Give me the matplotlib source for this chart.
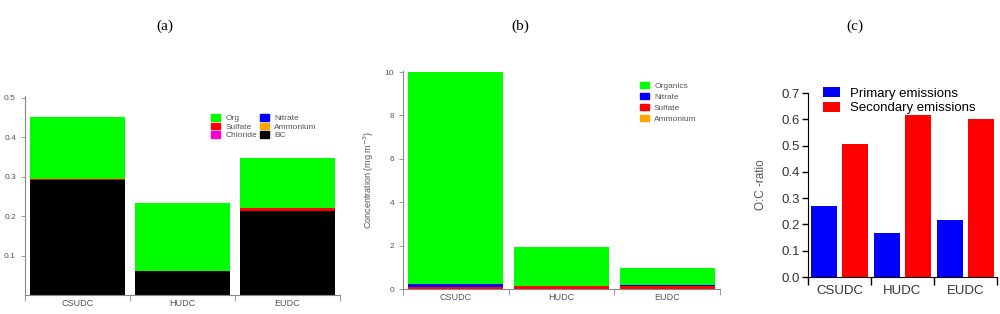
import numpy as np
import matplotlib
matplotlib.use("Agg")
import matplotlib.pyplot as plt
from matplotlib.patches import Patch

plt.rcParams["font.family"] = ["Liberation Sans", "DejaVu Sans"]

sites = ["CSUDC", "HUDC", "EUDC"]

# panel (a)
a_bc = [0.293, 0.061, 0.213]
a_chloride = [0.0, 0.0, 0.0]
a_ammonium = [0.0, 0.0, 0.0]
a_sulfate = [0.002, 0.001, 0.007]
a_nitrate = [0.0, 0.0, 0.0]
a_org = [0.157, 0.171, 0.127]

# panel (b)
b_sulfate = [0.10, 0.15, 0.14]
b_ammonium = [0.0, 0.0, 0.0]
b_nitrate = [0.15, 0.01, 0.03]
b_organics = [9.75, 1.78, 0.80]

# panel (c)
c_primary = [0.270, 0.166, 0.216]
c_secondary = [0.506, 0.618, 0.601]

GREEN = "#00ff00"
BLUE = "#0000ff"
RED = "#ff0000"
ORANGE = "#ffa500"
MAGENTA = "#ff00cc"
GRAY = "#555555"

W, H = 1000, 314
fig = plt.figure(figsize=(10, 3.14), dpi=100)


def px_axes(left, top, right, bottom):
    return fig.add_axes([left / W, 1 - bottom / H, (right - left) / W, (bottom - top) / H])


def style_small(ax):
    for s in ["top", "right"]:
        ax.spines[s].set_visible(False)
    for s in ["left", "bottom"]:
        ax.spines[s].set_color("#888888")
        ax.spines[s].set_linewidth(0.8)
    ax.tick_params(axis="y", colors="#888888", labelcolor=GRAY, labelsize=6, length=3, width=0.6)
    ax.tick_params(axis="x", which="major", length=0, labelcolor=GRAY, labelsize=6.5, pad=3)
    ax.tick_params(axis="x", which="minor", length=4, width=0.6, colors="#888888")
    ax.set_xticks(np.arange(3))
    ax.set_xticklabels(sites)
    ax.set_xticks([-0.5, 0.5, 1.5, 2.5], minor=True)
    ax.set_xlim(-0.5, 2.5)


def small_legend(ax, handles, anchor, ncol=1, spacing=0.05):
    leg = ax.legend(handles=handles, ncol=ncol, loc="upper left", bbox_to_anchor=anchor,
                    frameon=False, fontsize=6, handlelength=1.1, handleheight=0.8,
                    handletextpad=0.6, columnspacing=0.4, labelspacing=spacing,
                    borderaxespad=0)
    for t in leg.get_texts():
        t.set_color(GRAY)


x = np.arange(len(sites))
bw = 0.9

# (a)
ax1 = px_axes(25, 96, 340, 295)
bottom = np.zeros(3)
for vals, col in [(a_bc, "black"), (a_chloride, MAGENTA), (a_ammonium, ORANGE),
                  (a_sulfate, RED), (a_nitrate, BLUE), (a_org, GREEN)]:
    ax1.bar(x, vals, bw, bottom=bottom, color=col)
    bottom += np.array(vals)
ax1.set_ylim(0, 0.505)
ax1.set_yticks([0.1, 0.2, 0.3, 0.4, 0.5])
style_small(ax1)
small_legend(ax1, [Patch(color=GREEN, label="Org"), Patch(color=RED, label="Sulfate"),
                   Patch(color=MAGENTA, label="Chloride"), Patch(color=BLUE, label="Nitrate"),
                   Patch(color=ORANGE, label="Ammonium"), Patch(color="black", label="BC")],
             (0.58, 0.925), ncol=2)

# (b)
ax2 = px_axes(403, 71, 720, 289)
bottom = np.zeros(3)
for vals, col in [(b_sulfate, RED), (b_ammonium, ORANGE), (b_nitrate, BLUE), (b_organics, GREEN)]:
    ax2.bar(x, vals, bw, bottom=bottom, color=col)
    bottom += np.array(vals)
ax2.set_ylim(0, 10.05)
ax2.set_yticks([0, 2, 4, 6, 8, 10])
style_small(ax2)
ax2.set_ylabel("Concentration (mg m$^{-3}$)", fontsize=6.5, color=GRAY, labelpad=6)
small_legend(ax2, [Patch(color=GREEN, label="Organics"), Patch(color=BLUE, label="Nitrate"),
                   Patch(color=RED, label="Sulfate"), Patch(color=ORANGE, label="Ammonium")],
             (0.737, 0.965), spacing=0.35)

# (c)
ax3 = px_axes(808, 93, 997, 277)
cw = 0.41
ax3.bar(x - 0.245, c_primary, cw, color=BLUE, label="Primary emissions")
ax3.bar(x + 0.245, c_secondary, cw, color=RED, label="Secondary emissions")
ax3.set_ylim(0, 0.7)
ax3.set_yticks(np.arange(0, 0.71, 0.1))
ax3.set_yticklabels([f"{v:.1f}" for v in np.arange(0, 0.71, 0.1)])
ax3.set_xlim(-0.5, 2.5)
ax3.set_xticks(x)
ax3.set_xticklabels(sites)
ax3.set_xticks([-0.5, 0.5, 1.5, 2.5], minor=True)
for s in ["top", "right"]:
    ax3.spines[s].set_visible(False)
ax3.tick_params(axis="y", labelsize=9.5, labelcolor="#333333", length=4, width=1, pad=2)
ax3.tick_params(axis="x", which="major", length=0, labelsize=9.5, labelcolor="#333333", pad=6)
ax3.tick_params(axis="x", which="minor", length=6, width=1)
ax3.set_ylabel("O:C -ratio", fontsize=8.5, color=GRAY, labelpad=10)
ax3.legend(loc="upper left", bbox_to_anchor=(0.05, 1.06), frameon=False, fontsize=9.5,
           handlelength=1.3, handleheight=0.8, handletextpad=0.8, labelspacing=0.15,
           borderaxespad=0)

# panel titles
for xc, lab in [(165, "(a)"), (520, "(b)"), (855, "(c)")]:
    fig.text(xc / W, 1 - 26 / H, lab, ha="center", va="center",
             fontsize=11, family="Liberation Serif")

fig.savefig("out.png", dpi=100)
